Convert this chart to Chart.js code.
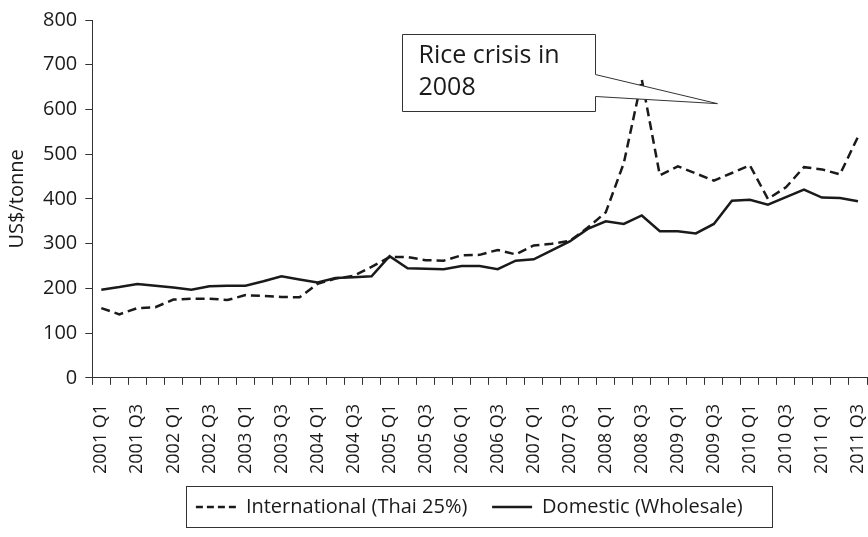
<!DOCTYPE html>
<html>
<head>
<meta charset="utf-8">
<script src="https://cdn.jsdelivr.net/npm/chart.js@4.4.0/dist/chart.umd.min.js"></script>
<style>
  html, body { margin: 0; padding: 0; background: #fff; }
  #contenedor { width: 868px; height: 537px; }
</style>
</head>
<body>
<div id="contenedor"><canvas id="grafico-arroz"></canvas></div>
<script>
// Trimestres del eje X
const trimestres = [
    '2001 Q1', '2001 Q2', '2001 Q3', '2001 Q4',
    '2002 Q1', '2002 Q2', '2002 Q3', '2002 Q4',
    '2003 Q1', '2003 Q2', '2003 Q3', '2003 Q4',
    '2004 Q1', '2004 Q2', '2004 Q3', '2004 Q4',
    '2005 Q1', '2005 Q2', '2005 Q3', '2005 Q4',
    '2006 Q1', '2006 Q2', '2006 Q3', '2006 Q4',
    '2007 Q1', '2007 Q2', '2007 Q3', '2007 Q4',
    '2008 Q1', '2008 Q2', '2008 Q3', '2008 Q4',
    '2009 Q1', '2009 Q2', '2009 Q3', '2009 Q4',
    '2010 Q1', '2010 Q2', '2010 Q3', '2010 Q4',
    '2011 Q1', '2011 Q2', '2011 Q3'
];

// Precio internacional (Thai 25%), US$/tonne
const internacional = [
    156, 142, 156, 158, 175, 177, 177, 174, 185, 183, 181, 180,
    210, 222, 228, 248, 270, 270, 263, 262, 274, 275, 286, 276,
    296, 300, 306, 336, 370, 480, 667, 453, 473, 457, 441, 458,
    475, 400, 426, 471, 466, 455, 539
];

// Precio domestico (mayorista), US$/tonne
const domestico = [
    197, 203, 210, 206, 202, 197, 205, 206, 206, 216, 227, 220,
    213, 223, 225, 227, 272, 245, 244, 243, 250, 250, 243, 262,
    265, 285, 305, 333, 350, 344, 363, 328, 328, 323, 344, 396,
    398, 387, 404, 421, 403, 402, 395
];

const nombresSeries = ['International (Thai 25%)', 'Domestic (Wholesale)'];
const textoNota = ['Rice crisis in', '2008'];

const fuente = "'Open Sans', 'Noto Sans', sans-serif";
const colorTinta = '#1a1a1a';

// Caja de la nota (en unidades de las escalas: indice de trimestre y US$)
const nota = { x0: 16.7, x1: 27.4, arriba: 768, abajo: 597, puntaArriba: 678, puntaAbajo: 629, puntaX: 34.2, puntaY: 613 };

// Dibuja la nota con flecha y el marco de la leyenda
const pluginNota = {
    id: 'notaCrisis',
    afterDraw(chart) {
        const ctx = chart.ctx;
        const x = chart.scales.x;
        const y = chart.scales.y;

        const izq = Math.round(x.getPixelForValue(nota.x0)) + 0.5;
        const der = Math.round(x.getPixelForValue(nota.x1)) + 0.5;
        const top = Math.round(y.getPixelForValue(nota.arriba)) + 0.5;
        const bot = Math.round(y.getPixelForValue(nota.abajo)) + 0.5;
        const pa = y.getPixelForValue(nota.puntaArriba);
        const pb = y.getPixelForValue(nota.puntaAbajo);
        const px = x.getPixelForValue(nota.puntaX);
        const py = y.getPixelForValue(nota.puntaY);

        ctx.save();
        ctx.beginPath();
        ctx.moveTo(izq, top);
        ctx.lineTo(der, top);
        ctx.lineTo(der, pa);
        ctx.lineTo(px, py);
        ctx.lineTo(der, pb);
        ctx.lineTo(der, bot);
        ctx.lineTo(izq, bot);
        ctx.closePath();
        ctx.fillStyle = '#fff';
        ctx.fill();
        ctx.lineWidth = 1;
        ctx.strokeStyle = '#333';
        ctx.stroke();

        ctx.fillStyle = colorTinta;
        ctx.font = '25px ' + fuente;
        ctx.textBaseline = 'middle';
        ctx.fillText(textoNota[0], izq + 16, top + 21);
        ctx.fillText(textoNota[1], izq + 16, top + 53);

        // marco de la leyenda
        const cajas = chart.legend.legendHitBoxes;
        if (cajas && cajas.length) {
            const l = Math.min(...cajas.map(c => c.left)) - 10;
            const r = Math.max(...cajas.map(c => c.left + c.width)) + 8;
            const t = Math.min(...cajas.map(c => c.top)) - 11;
            const b = Math.max(...cajas.map(c => c.top + c.height)) + 10;
            ctx.lineWidth = 1;
            ctx.strokeStyle = '#333';
            ctx.strokeRect(Math.round(l) + 0.5, Math.round(t) + 0.5, Math.round(r - l), Math.round(b - t));
        }
        ctx.restore();
    }
};

const ctxArroz = document.getElementById('grafico-arroz').getContext('2d');
new Chart(ctxArroz, {
    type: 'line',
    data: {
        labels: trimestres,
        datasets: [{
            label: nombresSeries[0],
            data: internacional,
            borderColor: colorTinta,
            borderWidth: 2.5,
            borderDash: [9, 5],
            pointRadius: 0,
            tension: 0,
            fill: false
        }, {
            label: nombresSeries[1],
            data: domestico,
            borderColor: colorTinta,
            borderWidth: 2.5,
            pointRadius: 0,
            tension: 0,
            fill: false
        }]
    },
    options: {
        responsive: true,
        maintainAspectRatio: false,
        animation: false,
        layout: { padding: { top: 15, right: 1, left: 3, bottom: 10 } },
        plugins: {
            tooltip: { enabled: false },
            legend: {
                position: 'bottom',
                fullSize: false,
                labels: {
                    color: colorTinta,
                    font: { family: fuente, size: 20 },
                    usePointStyle: true,
                    pointStyle: 'line',
                    pointStyleWidth: 40,
                    padding: 4,
                    generateLabels(chart) {
                        const items = Chart.defaults.plugins.legend.labels.generateLabels(chart);
                        items.forEach((it, i) => {
                            it.lineDash = i === 0 ? [7, 4] : [];
                            it.lineWidth = 2.5;
                            it.strokeStyle = colorTinta;
                            // espacio entre las dos entradas y margen derecho
                            it.text = it.text + '    ';
                        });
                        return items;
                    }
                }
            }
        },
        scales: {
            x: {
                offset: true,
                grid: {
                    offset: true,
                    drawOnChartArea: false,
                    drawTicks: true,
                    tickLength: 7,
                    color: '#333'
                },
                border: { color: '#333', width: 1 },
                ticks: {
                    autoSkip: false,
                    maxRotation: 90,
                    minRotation: 90,
                    padding: 19,
                    color: colorTinta,
                    font: { family: fuente, size: 18 },
                    callback: function (valor, indice) {
                        return indice % 2 === 0 ? this.getLabelForValue(valor) : '';
                    }
                },
                afterFit(escala) {
                    // el grafico original llega hasta el borde derecho
                    escala.paddingLeft = 0;
                    escala.paddingRight = 0;
                }
            },
            y: {
                min: 0,
                max: 800,
                ticks: {
                    stepSize: 100,
                    padding: 8,
                    color: colorTinta,
                    font: { family: fuente, size: 20 }
                },
                grid: {
                    drawOnChartArea: false,
                    drawTicks: true,
                    tickLength: 7,
                    color: '#333'
                },
                border: { color: '#333', width: 1 },
                title: {
                    display: true,
                    text: 'US$/tonne',
                    color: colorTinta,
                    font: { family: fuente, size: 20 },
                    padding: { top: 2, bottom: 6 }
                }
            }
        }
    },
    plugins: [pluginNota]
});
</script>
</body>
</html>
